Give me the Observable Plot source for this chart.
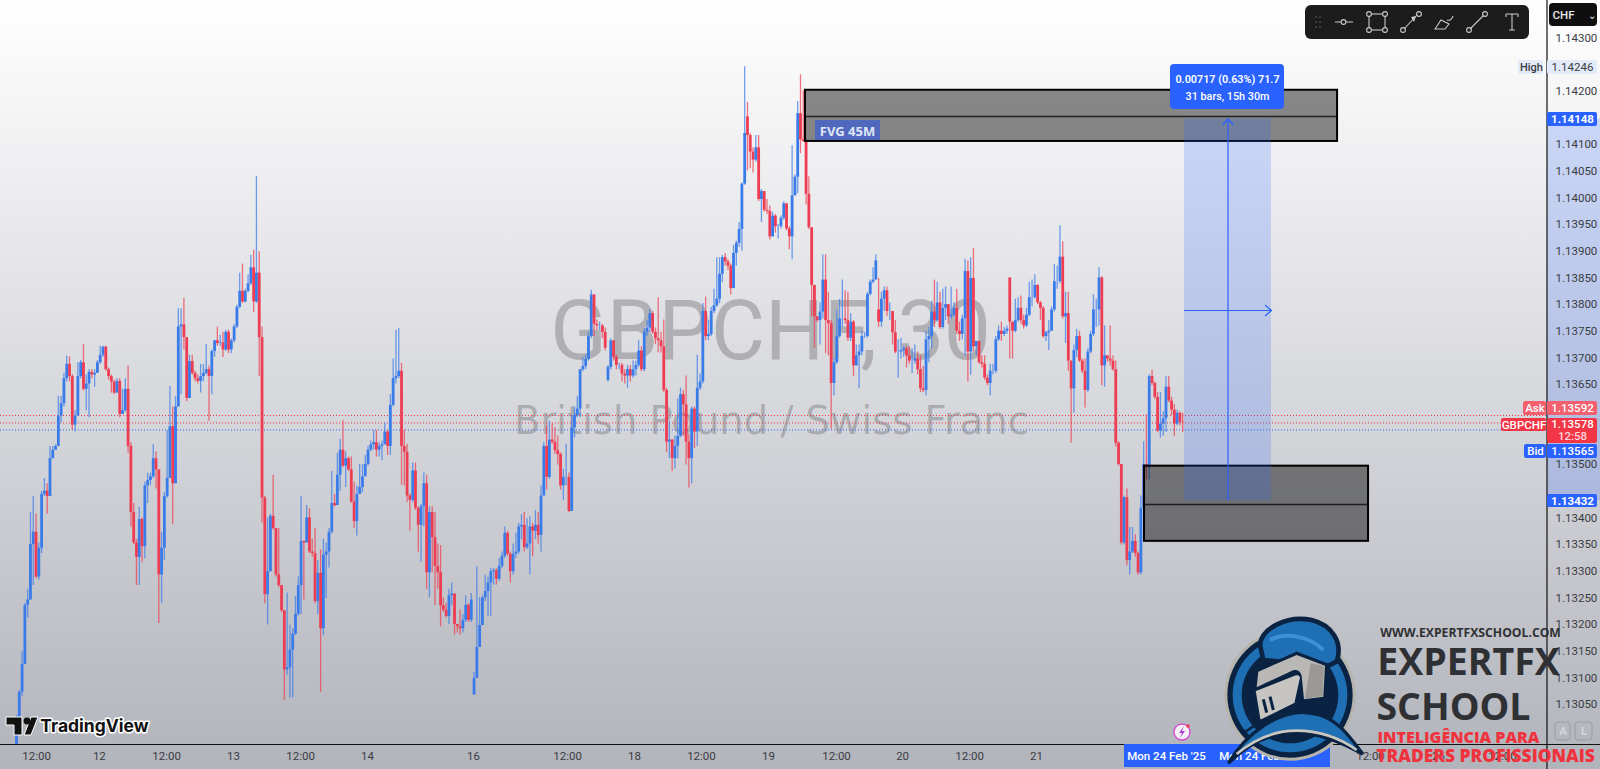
<!DOCTYPE html>
<html><head><meta charset="utf-8">
<script src="https://cdn.jsdelivr.net/npm/d3@7"></script>
<script src="https://cdn.jsdelivr.net/npm/@observablehq/plot@0.6"></script>
<style>html,body{margin:0;padding:0;background:#fff;overflow:hidden}</style>
</head><body><div id="chart"></div>
<script>
// GBPCHF 30m candles. All values are points above 1.13000 (1 point = 0.00001).
const priceBase = 1.13;
const closes = [
26,73,125,236,246,350,373,289,343,444,
450,440,511,527,534,591,614,661,688,665,
574,591,665,691,641,651,673,668,671,691,
705,720,678,665,655,634,656,594,601,641,
534,410,353,326,397,346,460,470,477,511,
490,293,343,440,474,571,464,608,758,762,
738,624,693,671,661,656,665,671,678,665,
712,732,727,728,715,748,715,732,758,795,
825,805,825,839,869,805,859,738,437,256,
299,403,380,293,273,226,115,119,152,182,
219,273,356,353,400,336,333,243,296,192,
330,336,373,427,423,480,527,497,511,490,
430,393,444,457,477,500,527,537,541,527,
534,537,561,534,611,661,665,675,534,523,
441,433,488,418,386,421,464,297,410,363,
309,297,235,227,215,254,257,200,196,192,
208,236,208,246,99,157,198,250,262,278,
299,301,285,309,328,371,332,299,332,336,
383,386,344,351,383,375,386,367,441,534,
476,546,542,526,519,460,476,476,412,569,
592,604,678,684,697,740,818,763,760,760,
748,718,682,732,701,686,686,670,666,678,
666,678,686,713,678,748,756,783,748,736,
732,721,639,542,546,511,534,553,631,612,
542,511,604,561,643,655,787,740,744,787,
798,810,857,888,880,872,830,896,915,941,
1026,1121,1117,1086,1071,1094,997,1012,977,975,
927,966,946,946,962,989,942,927,1004,1039,
1158,1109,1106,1007,944,836,777,770,786,846,
770,764,652,691,740,773,773,770,737,767,
685,704,711,740,740,819,842,846,882,767,
810,826,787,787,747,711,711,714,717,704,
694,694,698,678,642,639,734,740,786,770,
803,757,793,800,777,780,793,750,744,773,
862,711,849,721,731,691,688,662,652,675,
675,734,750,744,750,754,767,750,770,793,
770,760,780,813,813,836,803,793,740,747,
750,790,843,843,889,777,783,694,642,714,
740,694,675,639,711,744,790,790,850,685,
704,698,694,678,540,500,353,438,320,336,
356,333,297,418,500,494,665,652,626,563,
576,586,645,619,602,576,596,579,578];
const highs = [
30,76,149,239,266,410,440,407,353,450,
474,464,534,534,537,628,628,671,703,702,
669,601,691,695,725,668,678,678,678,695,
722,722,722,681,668,658,661,661,641,661,
685,541,427,360,420,400,467,484,484,537,
524,490,373,447,564,647,608,628,792,792,
812,738,705,705,675,668,688,688,725,685,
715,733,758,742,748,752,752,735,762,799,
859,876,829,856,892,902,1040,899,758,440,
400,407,480,380,380,273,226,259,199,192,
253,289,440,356,423,417,360,380,320,340,
360,353,380,487,444,521,547,582,524,514,
514,467,460,500,500,517,534,544,564,564,
541,544,578,564,631,698,752,755,690,565,
538,445,503,503,421,425,484,480,421,421,
410,351,348,250,239,266,278,258,200,227,
219,254,239,258,110,309,250,254,293,289,
305,305,305,324,336,383,375,336,351,371,
390,406,410,398,402,390,414,410,460,542,
573,581,577,569,553,522,491,538,484,592,
608,627,678,701,705,748,827,818,771,767,
763,756,686,736,732,705,690,690,678,686,
686,694,694,732,721,756,771,791,787,756,
813,748,771,643,581,546,553,623,643,639,
666,557,608,608,705,670,802,814,771,795,
829,888,888,892,896,884,876,911,919,954,
1028,1246,1179,1121,1094,1117,1117,1016,1012,997,
985,973,969,950,966,993,989,946,1098,1043,
1181,1231,1201,1109,1040,944,836,777,803,893,
893,823,770,698,790,810,846,826,823,783,
770,724,724,750,747,823,846,869,893,849,
823,833,833,803,787,770,734,737,721,721,
721,717,724,711,704,684,750,757,806,846,
842,823,829,833,800,833,803,829,767,780,
885,882,888,905,731,731,704,704,668,688,
688,740,760,767,757,760,850,767,810,813,
816,780,793,842,846,856,837,806,796,750,
770,796,875,872,948,918,823,823,694,724,
754,750,698,698,717,750,819,810,869,852,
760,704,760,704,694,543,500,441,454,382,
382,369,336,441,543,593,668,677,655,635,
635,599,665,665,626,612,602,599,596];
const lows = [
-26,26,65,125,212,269,273,286,283,333,
440,407,440,511,527,534,578,608,655,655,
564,561,591,661,638,601,588,661,645,671,
688,701,675,658,634,631,634,588,594,598,
521,383,350,273,273,316,323,427,460,474,
454,202,239,320,437,487,387,464,608,631,
715,618,624,668,655,651,634,655,668,581,
631,701,722,722,701,712,708,708,728,755,
792,802,803,822,836,785,802,665,390,239,
199,299,377,289,269,222,58,105,62,62,
179,216,219,246,353,333,326,239,219,73,
179,249,306,370,420,423,450,494,457,487,
427,380,366,444,447,477,497,524,527,514,
514,507,537,517,517,608,651,661,461,460,
429,375,429,414,336,317,383,266,250,297,
235,266,196,223,212,200,235,180,184,180,
184,204,204,204,68,99,157,200,243,215,
215,274,274,281,305,324,328,278,293,324,
332,359,336,340,293,328,359,351,336,441,
452,472,538,519,499,452,433,460,410,412,
550,588,588,674,678,694,736,740,752,752,
736,713,655,678,694,678,678,655,651,643,
655,662,666,682,674,674,740,748,744,725,
709,709,635,522,511,487,491,511,550,553,
499,456,464,530,534,639,651,732,732,740,
783,795,802,841,872,864,818,830,872,907,
900,1024,1051,1055,1047,1067,993,954,973,969,
921,927,934,923,942,958,938,903,884,1004,
1008,1083,1104,987,941,777,718,767,724,773,
708,704,566,629,688,737,757,763,731,731,
665,685,642,704,737,737,816,839,856,757,
757,787,777,770,724,708,662,698,701,681,
688,671,688,668,635,635,629,691,717,757,
767,754,754,770,763,773,777,744,731,734,
704,655,668,711,704,688,681,658,648,629,
668,671,731,731,740,744,698,698,747,767,
763,754,757,777,796,810,800,770,737,731,
714,750,786,829,839,773,727,675,540,596,
701,691,671,606,635,708,740,757,760,648,
645,691,685,675,533,497,349,349,310,293,
333,326,293,293,415,471,471,648,622,560,
550,553,560,616,592,553,573,573,560];
// Opens follow the previous close except where the picture shows a gap.
const gapBars = [0,164,212,262,309,356];
const gapOpens = [-26,68,658,1152,790,850];

const priceTicks = [1.143,1.142,1.141,1.1405,1.14,1.1395,1.139,1.1385,1.138,1.1375,1.137,1.1365,1.135,1.134,1.1335,1.133,1.1325,1.132,1.1315,1.131,1.1305];
const timeLabels = ["12:00","12","12:00","13","12:00","14","16","12:00","18","12:00","19","12:00","20","12:00","21","12:00","26","12:00"];
const timeBars = [7.2,29.7,53.8,77.8,101.8,125.8,163.8,197.5,221.5,245.5,269.5,293.9,317.6,341.6,365.6,485.3,509.7,532.6];
const askPrice = 1.13592, lastPrice = 1.13578, bidPrice = 1.13565;
const targetPrice = 1.14148, entryPrice = 1.13432;
const fvgUpper = {bars:[282.8,473.5], prices:[1.14202,1.14153,1.14106]};
const fvgLower = {bars:[404.3,484.6], prices:[1.13497,1.13425,1.13356]};

const BLUE="#3a7bea", RED="#ee3d52", TV="#2962ff";
const X = px => (px-16)/2.79;
const Y = py => 1.143-(py-37.5)/53320;
const candles = closes.map((c,i)=>{
  const g = gapBars.indexOf(i);
  const o = g>=0 ? gapOpens[g] : closes[i-1];
  return {i, o:priceBase+o/1e5, c:priceBase+c/1e5,
    h:priceBase+Math.max(highs[i],o,c)/1e5, l:priceBase+Math.min(lows[i],o,c)/1e5, up:c>=o};
});
const col = d=>d.up?BLUE:RED;
const box=(x1,x2,y1,y2,fill,o={})=>Plot.rect([0],{x1:X(x1),x2:X(x2),y1:Y(y1),y2:Y(y2),fill,clip:false,...o});
const label=(px,py,text,o={})=>Plot.text([text],{x:X(px),y:Y(py),text:d=>d,fontSize:11.5,lineAnchor:"middle",textAnchor:"middle",...o});

const tag=(x1,x2,y1,y2,fill,t,o={})=>[box(x1,x2,y1,y2,fill,{rx:2,...(o.box||{})}),
  label((x1+x2)/2,(y1+y2)/2,t,{fill:o.color||"#fff",fontWeight:o.w||500,fontSize:11.5})];

const chart = Plot.plot({
  width:1600,height:769,marginLeft:0,marginTop:0,marginRight:53,marginBottom:25,
  style:{background:"linear-gradient(180deg,#ffffff 0%,#b2b4bc 100%)",fontFamily:"Roboto, sans-serif",display:"block"},
  x:{domain:[X(0),X(1547)],range:[0,1547]},
  y:{domain:[Y(744),Y(0)],range:[744,0]},
  marks:[
    label(770,332,"GBPCHF, 30",{fontSize:83,fill:"#7b7c80",fillOpacity:.47,fontFamily:"Roboto"}),
    label(771,421,"British Pound / Swiss Franc",{fontSize:38.5,fill:"#7b7c80",fillOpacity:.47,fontFamily:"DejaVu Sans"}),
    Plot.ruleY([askPrice,lastPrice],{stroke:"#f23645",strokeDasharray:"1,2",strokeWidth:1,x1:X(0),x2:X(1546)}),
    Plot.ruleY([bidPrice],{stroke:TV,strokeDasharray:"1,2",strokeWidth:1,x1:X(0),x2:X(1546)}),
    Plot.ruleX(candles,{x:"i",y1:"l",y2:"h",stroke:col,strokeWidth:1.3,strokeOpacity:.72,clip:true}),
    Plot.ruleX(candles,{x:"i",y1:"o",y2:"c",stroke:col,strokeWidth:2.8,clip:true}),
    Plot.rect([fvgUpper,fvgLower],{x1:d=>d.bars[0],x2:d=>d.bars[1],y1:d=>d.prices[0],y2:d=>d.prices[2],fill:"#000",fillOpacity:.45,stroke:"#000",strokeWidth:2}),
    Plot.ruleY([fvgUpper,fvgLower],{y:d=>d.prices[1],x1:d=>d.bars[0],x2:d=>d.bars[1],stroke:"#000",strokeOpacity:.75,strokeWidth:1.5}),
    box(815,880,120,140,"#4a66c4",{fillOpacity:.9}),
    label(847,131,"FVG 45M",{fill:"#dfe6f6",fontWeight:700,fontSize:13,letterSpacing:"0.6px",fontFamily:"Open Sans"}),
    // long position tool
    Plot.rect([0],{x1:X(1184),x2:X(1271),y1:targetPrice,y2:entryPrice,fill:TV,fillOpacity:.2}),
    Plot.rect([0],{x1:X(1547),x2:X(1600),y1:targetPrice,y2:entryPrice,fill:TV,fillOpacity:.2,clip:false}),
    Plot.ruleX([X(1227.5)],{y1:targetPrice,y2:entryPrice,stroke:TV,strokeWidth:1.2}),
    Plot.line([[X(1222.5),Y(124)],[X(1227.5),Y(118.5)],[X(1232.5),Y(124)]],{stroke:TV,strokeWidth:1.2}),
    Plot.ruleY([Y(310)],{x1:X(1184),x2:X(1271),stroke:TV,strokeWidth:1.2}),
    Plot.line([[X(1265),Y(305)],[X(1271),Y(310)],[X(1265),Y(315)]],{stroke:TV,strokeWidth:1.2}),
    box(1170,1284,64,109,"#2962ff",{rx:4}),
    label(1227,79,"0.00717 (0.63%) 71.7",{fill:"#fff",fontWeight:600,fontSize:10.8}),
    label(1227,96,"31 bars, 15h 30m",{fill:"#fff",fontWeight:500,fontSize:10.8}),
    // axes
    Plot.axisY(priceTicks,{anchor:"right",tickSize:0,tickPadding:8,tickFormat:d=>d.toFixed(5),fontSize:11.5,fill:"#3a3c42",label:null}),
    Plot.axisX(timeBars,{anchor:"bottom",tickSize:0,tickPadding:7,tickFormat:d=>timeLabels[timeBars.indexOf(d)],fontSize:11.5,fill:"#3a3c42",label:null}),
    Plot.ruleY([Y(744)],{x1:X(0),x2:X(1600),stroke:"#111",strokeWidth:1.2,clip:false}),
    Plot.ruleX([X(1546.5)],{y1:Y(0),y2:Y(769),stroke:"#111",strokeWidth:1.2,clip:false}),
    // right-hand price labels
    box(1549,1597,3,26,"#0f0f0f",{rx:4}),
    label(1563,15,"CHF",{fill:"#e8e8e8",fontWeight:500,fontSize:11.5}),
    label(1591,15,"⌄",{fill:"#e8e8e8",fontSize:10}),
    box(1518,1543,60,74,"#e3ebf8",{rx:2}),label(1531,67,"High",{fill:"#3a3c42",fontSize:11,fontWeight:500}),
    box(1547,1597,60,74,"#e3ebf8",{rx:2}),label(1572,67,"1.14246",{fill:"#3a3c42",fontSize:11.5}),
    ...tag(1547,1597,112,126,"#2962ff","1.14148",{w:700}),
    ...tag(1523,1546,401,415,"#f4606e","Ask"),
    ...tag(1547,1597,401,415,"#f4606e","1.13592"),
    ...tag(1501,1546,418,431,"#f23645","GBPCHF"),
    box(1547,1597,418,443,"#f23645",{rx:2}),
    label(1572,424,"1.13578",{fill:"#fff",fontWeight:500}),label(1572,436,"12:58",{fill:"#ffd7da",fontWeight:500}),
    ...tag(1524,1546,444,458,"#2962ff","Bid"),
    ...tag(1547,1597,444,458,"#2962ff","1.13565"),
    ...tag(1547,1597,494,507,"#2962ff","1.13432",{w:700}),
    // time labels
    box(1124,1330,744,767,"#2962ff"),
    label(1166,756,"Mon 24 Feb '25",{fill:"#fff",fontWeight:500}),
    label(1258,756,"Mon 24 Feb '25",{fill:"#fff",fontWeight:500}),
    box(1555,1570,722,740,"none",{stroke:"#9a9ca4",rx:3}),label(1562.5,731,"A",{fill:"#d6d7dc",fontWeight:600}),
    box(1575,1592,722,740,"none",{stroke:"#9a9ca4",rx:3}),label(1583.5,731,"L",{fill:"#d6d7dc",fontWeight:600}),
    // TradingView mark
    label(94,726,"TradingView",{fontSize:17.5,fontWeight:700,fontFamily:"Inter",fill:"#111",stroke:"#fff",strokeWidth:3,paintOrder:"stroke",letterSpacing:"-0.5px"}),
    // brand text
    label(1470,633,"WWW.EXPERTFXSCHOOL.COM",{fontFamily:"Open Sans",fontWeight:700,fontSize:12.2,fill:"#2f3033"}),
    label(1468,662,"EXPERTFX",{fontFamily:"Open Sans",fontWeight:700,fontSize:37.5,fill:"#2f3033"}),
    label(1453,707,"SCHOOL",{fontFamily:"Open Sans",fontWeight:700,fontSize:37.5,fill:"#2f3033"}),
    label(1458,737,"INTELIGÊNCIA PARA",{fontFamily:"Open Sans",fontWeight:800,fontSize:16,fill:"#f0323c"}),
    label(1485,756,"TRADERS PROFISSIONAIS",{fontFamily:"Open Sans",fontWeight:800,fontSize:17.4,fill:"#f0323c"})
  ]
});
document.getElementById("chart").appendChild(chart);

// Non-data decoration: toolbar icons, logos
const svg = d3.select(chart);
const ns = svg.append("g");
ns.append("rect").attr("x",1305).attr("y",5).attr("width",224).attr("height",34).attr("rx",6).attr("fill","#1c1c1d");
const tb = ns.append("g").attr("fill","none").attr("stroke","#c9c9c9").attr("stroke-width",1.1);
const ring=(x,y)=>tb.append("circle").attr("cx",x).attr("cy",y).attr("r",2.4);
tb.append("path").attr("d","M1335 22H1341M1346 22H1353");
ring(1343.5,22);
tb.append("rect").attr("x",1369).attr("y",14).attr("width",16).attr("height",16);
[[1369,14],[1385,14],[1369,30],[1385,30]].forEach(p=>ring(...p).attr("fill","#1c1c1d"));
tb.append("path").attr("d","M1404 29L1417 15");ring(1403,30);ring(1419,14);
ns.append("path").attr("d","M1411 17l5 -1l-2 6z").attr("fill","#c9c9c9");
tb.append("path").attr("d","M1435 29L1441 20L1449 24L1445 29ZM1447 20C1450 21 1452 19 1453 16");
tb.append("path").attr("d","M1470 29L1484 15");ring(1469,30);ring(1485,14);
tb.append("path").attr("d","M1506 14H1518M1512 14V30M1509 30H1515M1506 14V17M1518 14V17");
for(const x of [1316,1320]) for(const y of [17,22,27]) ns.append("circle").attr("cx",x).attr("cy",y).attr("r",.8).attr("fill","#666");

// TradingView glyph
ns.append("path").attr("d","M6 717H22V735H14V725H6ZM24 735L31 717H38L31 735Z").attr("fill","#111").attr("stroke","#fff").attr("stroke-width",1);
ns.append("circle").attr("cx",27).attr("cy",721).attr("r",3.4).attr("fill","#111");

// alert badge
ns.append("circle").attr("cx",1182).attr("cy",732).attr("r",8).attr("fill","#f4f0f6").attr("stroke","#d24fd0").attr("stroke-width",1.4);
ns.append("path").attr("d","M1184 726l-5 7h3l-2 5l5 -7h-3z").attr("fill","#b23fd6");
ns.append("circle").attr("cx",1188).attr("cy",726).attr("r",1.7).attr("fill","#f23645");

// Knight emblem (drawn in 3x crop space)
const k = svg.append("g").attr("transform","translate(1180,600) scale(.3333)");
const circ=(r,f)=>k.append("circle").attr("cx",330).attr("cy",285).attr("r",r).attr("fill",f);
circ(197,"#b6b4ad");circ(188,"#0a2342");circ(172,"#1f6fb5");circ(145,"#0a2342");
const p=(d,f,s,w)=>k.append("path").attr("d",d).attr("fill",f||"none").attr("stroke",s||"none").attr("stroke-width",w||0);
p("M240 135C245 85 320 45 395 60C455 75 490 125 470 185L440 200L250 180Z","#1f6fb5","#0a2342",14);
p("M270 120C320 95 390 110 430 150","none","#3f8fd6",12);
p("M232 215L350 162L437 195L432 292L370 300L362 225L222 270L240 365L345 325L345 340L240 385L210 265Z","#0a2342","#0a2342",14);
p("M235 215L350 165L435 197L430 290L372 298L365 228C362 210 345 205 330 215L230 262Z","#b9b8b4");
p("M392 190L432 198L428 288L375 296Z","#9a9996");
p("M225 272L345 225C358 220 365 228 360 242L345 310L240 362Z","#c6c5c1","#0a2342",4);
p("M250 298L260 338M270 290L280 330","none","#0a2342",9);
p("M145 490C195 405 300 320 400 340C470 352 510 410 548 462C480 425 420 400 345 398C260 398 190 445 145 490Z","#1f6fb5","#0a2342",10);
p("M170 462C230 412 295 392 350 392C420 392 480 415 530 450","none","#c9c7bf",8);
p("M190 400C260 345 340 325 420 345","none","#0a2342",8);
svg.node().appendChild(svg.selectAll("g").filter(function(){return this.getAttribute("aria-label")==="text"}).nodes().slice(-1)[0]);
</script></body></html>
